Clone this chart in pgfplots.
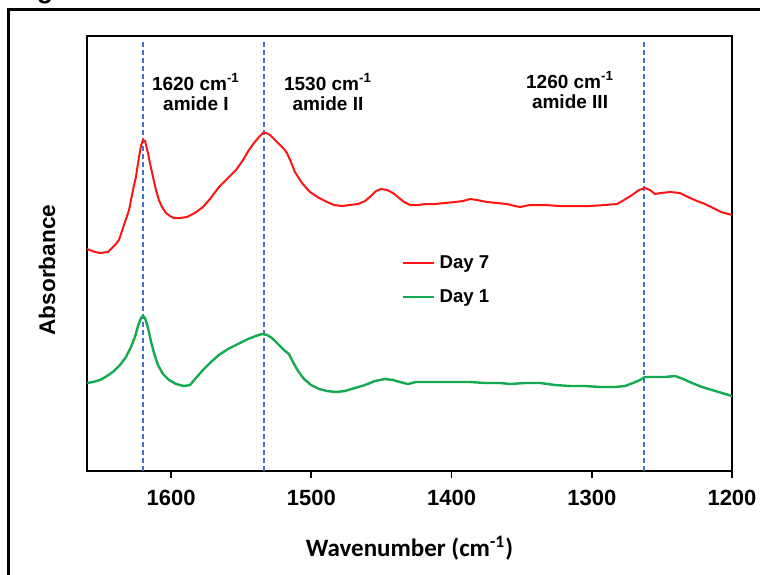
\documentclass[border=0pt]{standalone}
\usepackage{fontspec}
\setmainfont{Liberation Sans}
\newfontfamily\calibri{Carlito}
\usepackage{pgfplots}
\pgfplotsset{compat=1.18}

\definecolor{dayseven}{RGB}{255,20,20}
\definecolor{dayone}{RGB}{20,170,80}
\definecolor{peakline}{RGB}{68,114,196}

\begin{document}
\begin{tikzpicture}
\useasboundingbox (0pt,0pt) rectangle (380pt,287pt);
\clip (0pt,0pt) rectangle (380pt,287pt);
% outer panel frame (cut off at right and bottom)
\draw[line width=1.5pt] (4pt,-10pt) -- (4pt,282pt) -- (400pt,282pt);
\node[font=\bfseries\fontsize{13}{13}\selectfont, anchor=base, inner sep=0pt] at (22.5pt,287.8pt) {g};

\begin{axis}[
    at={(43.5pt,51.5pt)}, anchor=south west,
    scale only axis, width=322.5pt, height=217.5pt,
    x dir=reverse,
    xmin=1200, xmax=1660, ymin=0, ymax=435,
    xtick={1200,1300,1400,1500,1600},
    ytick=\empty,
    xtick pos=bottom, tick align=outside,
    major tick length=3.5pt,
    tick style={black, line width=0.9pt},
    axis line style={black, line width=0.9pt},
    /pgf/number format/assume math mode=true,
    /pgf/number format/1000 sep={},
    xticklabel style={font=\bfseries\fontsize{11}{11}\selectfont, anchor=center, yshift=-10pt},
    xlabel={Wavenumber (cm\textsuperscript{-1})},
    ylabel={Absorbance},
    every axis x label/.style={at={(axis description cs:0.5,0)}, anchor=center, yshift=-38.5pt,
        font=\calibri\bfseries\fontsize{12.5}{12.5}\selectfont},
    every axis y label/.style={at={(axis description cs:0,0.462)}, anchor=center, xshift=-20pt, rotate=90,
        font=\bfseries\fontsize{11.3}{11.3}\selectfont},
    legend style={at={(axis description cs:0.485,0.51)}, anchor=north west, draw=none, fill=none,
        font=\bfseries\fontsize{9.3}{9.3}\selectfont, row sep=5pt, inner sep=1pt,
        cells={anchor=west}},
    legend image code/.code={\draw[#1] (0pt,0pt) -- (15.5pt,0pt);},
    clip=false,
]
% peak markers
\addplot[peakline, line width=1pt, dash pattern=on 2.5pt off 1.5pt, forget plot] coordinates {(1620,0) (1620,431)};
\addplot[peakline, line width=1pt, dash pattern=on 2.5pt off 1.5pt, forget plot] coordinates {(1534,0) (1534,431)};
\addplot[peakline, line width=1pt, dash pattern=on 2.5pt off 1.5pt, forget plot] coordinates {(1263,0) (1263,431)};

% Day 7
\addplot[dayseven, line width=1pt] coordinates {
(1660,222) (1654.3,219) (1650.7,218) (1645.0,219) (1640.0,226) (1637.2,231)
(1630.0,261) (1627.2,281) (1625.1,294) (1622.9,314) (1621.5,325) (1620.1,331)
(1618.6,330) (1616.5,318) (1615.1,308) (1612.9,294) (1610.8,281) (1608.7,271)
(1606.5,264) (1603.7,258) (1600.8,255) (1598.0,253) (1593.7,253) (1588.7,254)
(1583.0,258) (1577.3,264) (1572.3,272) (1565.9,284) (1559.4,293) (1553.7,301)
(1548.7,311) (1544.5,321) (1540.9,328) (1537.3,334) (1534.5,338) (1532.3,338)
(1529.5,336) (1525.9,331) (1522.4,326) (1519.5,322) (1517.4,318) (1514.5,309)
(1511.7,299) (1506.7,288) (1501.0,279) (1494.5,273) (1488.8,269) (1483.8,266)
(1478.1,265) (1472.4,266) (1466.7,267) (1461.7,270) (1457.5,275) (1453.9,280)
(1450.3,282) (1446.0,281) (1441.8,278) (1438.2,274) (1433.9,269) (1429.6,266)
(1423.9,266) (1418.9,267) (1411.8,267) (1404.7,268) (1397.5,269) (1391.8,270)
(1386.8,272) (1381.9,271) (1374.7,269) (1367.6,268) (1360.5,267) (1354.7,265)
(1351.2,264) (1344.1,266) (1333.4,266) (1322.7,265) (1312.0,265) (1301.3,265)
(1290.6,266) (1282.0,267) (1277.0,271) (1271.3,276) (1266.3,281) (1262.0,283)
(1258.5,281) (1254.9,277) (1250.6,278) (1244.2,279) (1237.1,278) (1231.4,274)
(1225.0,270) (1219.3,267) (1213.5,263) (1207.8,259) (1200.0,256)
};
\addlegendentry{Day 7}

% Day 1
\addplot[dayone, line width=1.2pt] coordinates {
(1660,88) (1655.7,89) (1650.7,91) (1645.7,95) (1640.7,100) (1636.5,106)
(1632.2,114) (1628.6,124) (1625.8,134) (1623.6,145) (1621.5,153) (1620.1,155)
(1618.6,153) (1616.5,143) (1614.4,130) (1612.2,118) (1609.4,106) (1605.8,97)
(1601.5,91) (1596.5,87) (1590.8,85) (1586.5,86) (1582.3,93) (1577.3,101)
(1571.6,109) (1565.9,116) (1559.4,122) (1552.3,127) (1545.2,132) (1539.5,135)
(1535.2,137) (1531.6,136) (1528.1,133) (1523.8,127) (1519.5,121) (1516.0,117)
(1513.1,109) (1509.5,100) (1505.2,92) (1500.2,86) (1494.5,82) (1488.8,80)
(1482.4,79) (1476.0,80) (1468.9,83) (1461.7,86) (1454.6,90) (1447.5,92)
(1441.8,91) (1436.8,89) (1431.1,87) (1425.4,89) (1416.8,89) (1408.2,89)
(1397.5,89) (1386.8,89) (1376.1,88) (1365.4,88) (1358.3,87) (1347.6,88)
(1336.9,88) (1326.2,86) (1315.5,85) (1304.8,85) (1294.1,84) (1283.4,84)
(1276.3,85) (1270.6,88) (1265.6,91) (1262.0,94) (1254.9,94) (1247.8,94)
(1240.6,95) (1234.9,92) (1228.5,88) (1221.4,84) (1214.2,81) (1207.1,78)
(1200.0,75)
};
\addlegendentry{Day 1}

\node[align=center, font=\bfseries\fontsize{9.5}{10}\selectfont] at (axis cs:1582.3,379) {1620 cm\textsuperscript{-1}\\amide I};
\node[align=center, font=\bfseries\fontsize{9.5}{10}\selectfont] at (axis cs:1488.1,379) {1530 cm\textsuperscript{-1}\\amide II};
\node[align=center, font=\bfseries\fontsize{9.5}{10}\selectfont] at (axis cs:1315.5,381) {1260 cm\textsuperscript{-1}\\amide III};
\end{axis}
\end{tikzpicture}
\end{document}
